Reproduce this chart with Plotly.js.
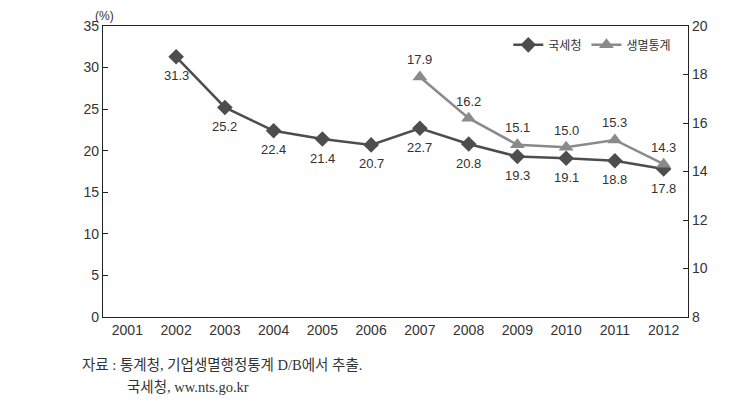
<!DOCTYPE html>
<html><head><meta charset="utf-8">
<script src="https://cdn.plot.ly/plotly-3.0.1.min.js"></script>
<style>body{margin:0;background:#fff}#c{width:754px;height:402px}</style>
</head><body><div id="c"></div>
<script>
const years = ['2001','2002','2003','2004','2005','2006','2007','2008','2009','2010','2011','2012'];
const ntsYears = ['2002','2003','2004','2005','2006','2007','2008','2009','2010','2011','2012'];
const ntsValues = [31.3,25.2,22.4,21.4,20.7,22.7,20.8,19.3,19.1,18.8,17.8];
const statYears = ['2007','2008','2009','2010','2011','2012'];
const statValues = [17.9,16.2,15.1,15.0,15.3,14.3];
const seriesNames = ['국세청','생멸통계'];
const leftTicks = [0,5,10,15,20,25,30,35];
const rightTicks = [8,10,12,14,16,18,20];

const fontSans = 'Liberation Sans, Arial, Noto Sans CJK KR, sans-serif';
const serif = 'Liberation Serif, Noto Sans CJK KR, serif';
const traces = [
  {x: ntsYears, y: ntsValues, name: seriesNames[0], type:'scatter', mode:'lines+markers',
   line:{color:'#4d4d4d', width:2.5}, marker:{symbol:'diamond', size:12, color:'#4d4d4d'}, cliponaxis:false},
  {x: statYears, y: statValues, name: seriesNames[1], type:'scatter', mode:'lines+markers', yaxis:'y2',
   line:{color:'#8a8a8a', width:2.5}, marker:{symbol:'triangle-up', size:13, color:'#8a8a8a'}, cliponaxis:false}
];
const labelFont = {family:fontSans, size:13, color:'#333'};
const ntsLabels = ntsYears.map((yr,i)=>({x:years.indexOf(yr), y:ntsValues[i], xref:'x', yref:'y', text:ntsValues[i].toFixed(1),
  showarrow:false, yshift:-19, font:labelFont}));
const statLabels = statYears.map((yr,i)=>({x:years.indexOf(yr), y:statValues[i], xref:'x', yref:'y2', text:statValues[i].toFixed(1),
  showarrow:false, yshift:17, font:labelFont}));
const layout = {
  width:754, height:402, margin:{l:103, r:66, t:26, b:85},
  paper_bgcolor:'#fff', plot_bgcolor:'#fff',
  font:{family:fontSans, size:14, color:'#333'},
  showlegend:true,
  legend:{orientation:'h', x:0.98, xanchor:'right', y:0.985, yanchor:'top',
    font:{family:'Noto Sans CJK KR, sans-serif', size:12, color:'#333'}, bgcolor:'rgba(0,0,0,0)', itemwidth:30},
  xaxis:{type:'category', categoryorder:'array', categoryarray:years, range:[-0.5,11.5], showline:true, linecolor:'#222', linewidth:1.2,
    mirror:true, ticks:'', showgrid:false, zeroline:false, tickfont:{size:14, color:'#333'}},
  yaxis:{range:[0,35], tickvals:leftTicks, showline:true, linecolor:'#222', linewidth:1.2, ticks:'inside', ticklen:5,
    tickcolor:'#222', showgrid:false, zeroline:false, tickfont:{size:14, color:'#333'}},
  yaxis2:{range:[8,20], tickvals:rightTicks, overlaying:'y', side:'right', showline:true, linecolor:'#222', linewidth:1.2,
    ticks:'inside', ticklen:5, tickcolor:'#222', showgrid:false, zeroline:false, tickfont:{size:14, color:'#333'}},
  annotations:[
    {text:'(%)', xref:'paper', yref:'paper', x:0, y:1, xanchor:'left', yanchor:'bottom', xshift:-10, yshift:1, showarrow:false,
     font:{family:fontSans, size:12, color:'#333'}},
    {text:'자료 : 통계청, 기업생멸행정통계 D/B에서 추출.', xref:'paper', yref:'paper', x:-0.04, y:-0.13, xanchor:'left', yanchor:'top', showarrow:false,
     font:{family:serif, size:14.5, color:'#333'}},
    {text:'국세청, ww.nts.go.kr', xref:'paper', yref:'paper', x:0.037, y:-0.205, xanchor:'left', yanchor:'top', showarrow:false,
     font:{family:serif, size:14.5, color:'#333'}}
  ].concat(ntsLabels, statLabels)
};
Plotly.newPlot('c', traces, layout, {displayModeBar:false, staticPlot:true});
</script></body></html>
